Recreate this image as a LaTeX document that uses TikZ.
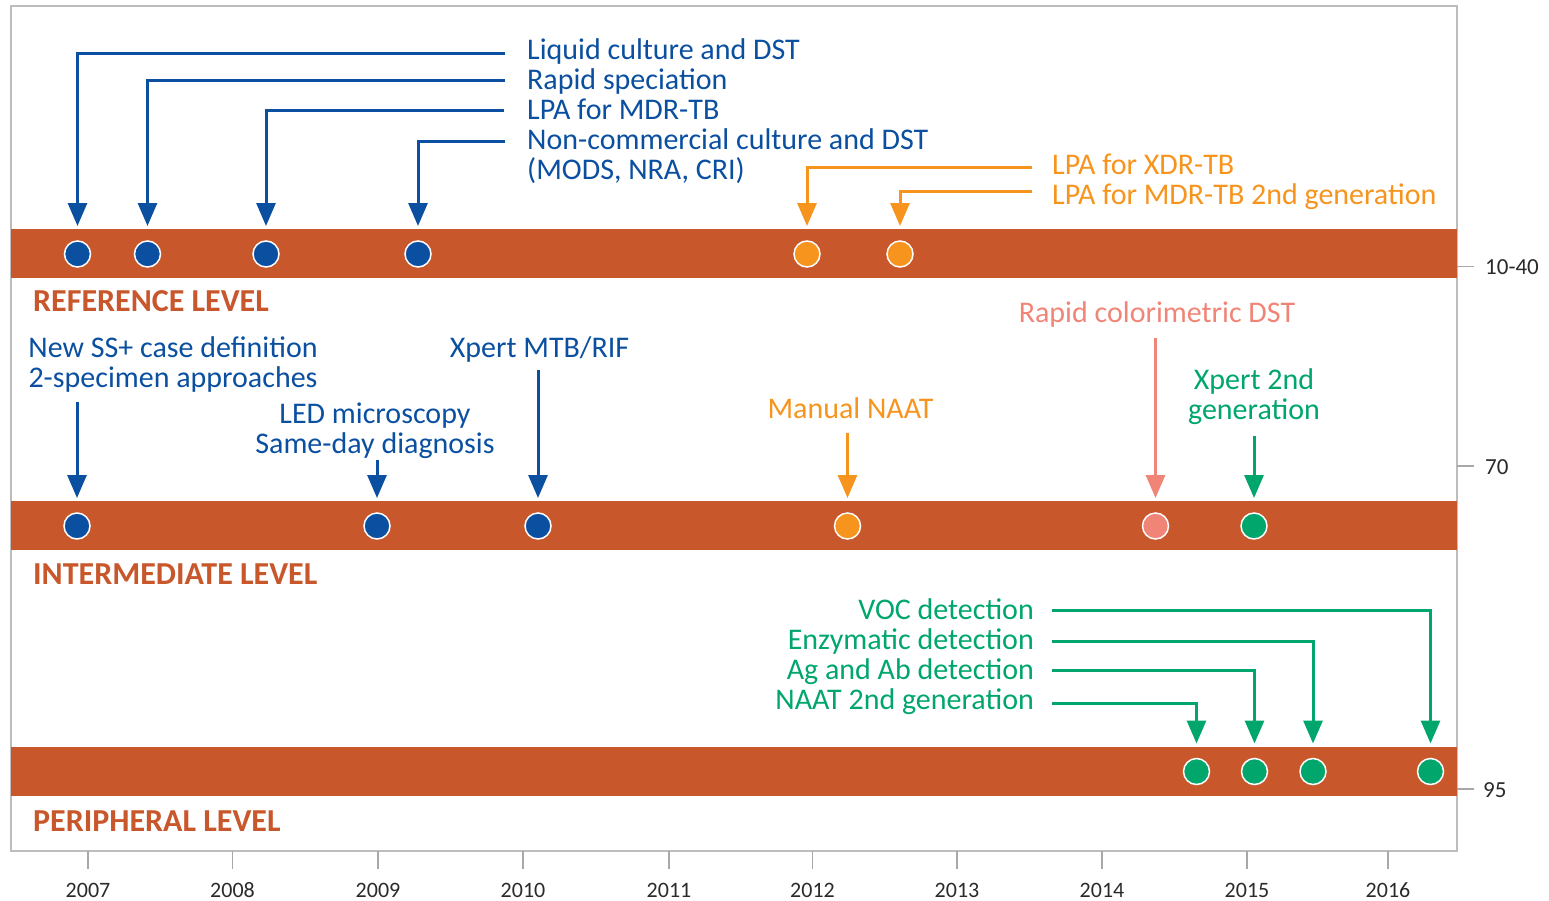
\documentclass[tikz,border=0pt]{standalone}
\usepackage{fontspec}
\setmainfont{Carlito}
\usetikzlibrary{arrows.meta}
\definecolor{band}{HTML}{C8572C}
\definecolor{tbblue}{HTML}{0A4FA0}
\definecolor{tborange}{HTML}{F7941D}
\definecolor{tbsalmon}{HTML}{F08577}
\definecolor{tbgreen}{HTML}{00A66B}
\definecolor{framegray}{HTML}{BDBDBD}
\definecolor{tickgray}{HTML}{A8A8A8}
\definecolor{txtgray}{HTML}{2A2A2A}
\begin{document}
\begin{tikzpicture}[x=1pt,y=-1pt,
  lab/.style={inner sep=0pt, font=\fontsize{30}{32}\selectfont},
  lvl/.style={inner sep=0pt, anchor=base west, text=band, font=\fontsize{32}{34}\selectfont\bfseries},
  yr/.style={inner sep=0pt, anchor=base, text=txtgray, font=\fontsize{22}{24}\selectfont},
  pct/.style={inner sep=0pt, anchor=base west, text=txtgray, font=\fontsize{23}{25}\selectfont},
  dot/.style={circle, draw=white, line width=1.5pt, minimum size=26pt, inner sep=0pt, outer sep=0pt},
  conn/.style={line width=3pt, -{Triangle[width=19pt,length=23pt]}},
  bandbox/.style={fill=band, draw=none},
  tick/.style={draw=tickgray, line width=1.5pt}]
\useasboundingbox (0,0) rectangle (1549,900);
% frame
\draw[framegray, line width=2pt] (11,6) rectangle (1457,851);
% bands
\fill[bandbox] (11,229) rectangle (1457,278);
\fill[bandbox] (11,501) rectangle (1457,550);
\fill[bandbox] (11,747) rectangle (1457,796);
% level labels
\node[lvl] (lref) at (33,311) {REFERENCE LEVEL};
\node[lvl] (lint) at (33,584) {INTERMEDIATE LEVEL};
\node[lvl] (lper) at (33,831) {PERIPHERAL LEVEL};
% year axis
\foreach \x/\y in {88/2007,232.5/2008,378/2009,523/2010,669/2011,812.5/2012,957/2013,1102/2014,1247/2015,1388/2016}{
  \draw[tick] (\x,851) -- (\x,869);
  \node[yr] (y\y) at (\x,897) {\y};
}
% right scale
\draw[tick] (1457,266.5) -- (1474,266.5);
\draw[tick] (1457,466) -- (1474,466);
\draw[tick] (1457,789) -- (1474,789);
\node[pct] (p1) at (1485,274) {10-40};
\node[pct] (p2) at (1485,474) {70};
\node[pct] (p3) at (1483,797) {95};

% reference level dots
\node[dot, fill=tbblue] (r1) at (77.5,254) {};
\node[dot, fill=tbblue] (r2) at (147.5,254) {};
\node[dot, fill=tbblue] (r3) at (266,254) {};
\node[dot, fill=tbblue] (r4) at (418,254) {};
\node[dot, fill=tborange] (r5) at (807,254) {};
\node[dot, fill=tborange] (r6) at (900,254) {};

% reference texts
\node[lab, anchor=base west, text=tbblue] (t1) at (527,59) {Liquid culture and DST};
\node[lab, anchor=base west, text=tbblue] (t2) at (527,89) {Rapid speciation};
\node[lab, anchor=base west, text=tbblue] (t3) at (527,119) {LPA for MDR-TB};
\node[lab, anchor=base west, text=tbblue] (t4) at (527,149) {Non-commercial culture and DST};
\node[lab, anchor=base west, text=tbblue] (t4b) at (527,179) {(MODS, NRA, CRI)};
\node[lab, anchor=base west, text=tborange] (t5) at (1052,174) {LPA for XDR-TB};
\node[lab, anchor=base west, text=tborange] (t6) at (1052,204) {LPA for MDR-TB 2nd generation};

\coordinate (c1) at (505,53);
\coordinate (c2) at (505,80);
\coordinate (c3) at (504,110);
\coordinate (c4) at (505,141);
\coordinate (c5) at (1032,167);
\coordinate (c6) at (1032,191);
\draw[conn, tbblue] (c1) -| ([yshift=15pt]r1.north);
\draw[conn, tbblue] (c2) -| ([yshift=15pt]r2.north);
\draw[conn, tbblue] (c3) -| ([yshift=15pt]r3.north);
\draw[conn, tbblue] (c4) -| ([yshift=15pt]r4.north);
\draw[conn, tborange] (c5) -| ([yshift=15pt]r5.north);
\draw[conn, tborange] (c6) -| ([yshift=15pt]r6.north);

% intermediate level dots
\node[dot, fill=tbblue] (i1) at (77,526) {};
\node[dot, fill=tbblue] (i2) at (377,526) {};
\node[dot, fill=tbblue] (i3) at (538,526) {};
\node[dot, fill=tborange] (i4) at (847.5,526) {};
\node[dot, fill=tbsalmon] (i5) at (1155.5,526) {};
\node[dot, fill=tbgreen] (i6) at (1254,526) {};

% intermediate texts
\node[lab, anchor=base, text=tbblue] (u1) at (173,357) {New SS+ case definition};
\node[lab, anchor=base, text=tbblue] (u1b) at (173,387) {2-specimen approaches};
\node[lab, anchor=base, text=tbblue] (u2) at (375,423) {LED microscopy};
\node[lab, anchor=base, text=tbblue] (u2b) at (375,453) {Same-day diagnosis};
\node[lab, anchor=base, text=tbblue] (u3) at (539.5,357) {Xpert MTB/RIF};
\node[lab, anchor=base, text=tborange] (u4) at (850.5,418) {Manual NAAT};
\node[lab, anchor=base, text=tbsalmon] (u5) at (1157,322) {Rapid colorimetric DST};
\node[lab, anchor=base, text=tbgreen] (u6) at (1254,389) {Xpert 2nd};
\node[lab, anchor=base, text=tbgreen] (u6b) at (1254,419) {generation};

\coordinate (d1) at (77,402);
\coordinate (d2) at (377,460);
\coordinate (d3) at (538,370);
\coordinate (d4) at (847.5,433);
\coordinate (d5) at (1155.5,338);
\coordinate (d6) at (1254,436);
\draw[conn, tbblue] (d1) -- ([yshift=15pt]i1.north);
\draw[conn, tbblue] (d2) -- ([yshift=15pt]i2.north);
\draw[conn, tbblue] (d3) -- ([yshift=15pt]i3.north);
\draw[conn, tborange] (d4) -- ([yshift=15pt]i4.north);
\draw[conn, tbsalmon] (d5) -- ([yshift=15pt]i5.north);
\draw[conn, tbgreen] (d6) -- ([yshift=15pt]i6.north);

% peripheral level dots
\node[dot, fill=tbgreen] (q1) at (1196.5,771.5) {};
\node[dot, fill=tbgreen] (q2) at (1254.5,771.5) {};
\node[dot, fill=tbgreen] (q3) at (1313,771.5) {};
\node[dot, fill=tbgreen] (q4) at (1430.5,771.5) {};

% peripheral texts
\node[lab, anchor=base east, text=tbgreen] (v4) at (1034,619) {VOC detection};
\node[lab, anchor=base east, text=tbgreen] (v3) at (1034,649) {Enzymatic detection};
\node[lab, anchor=base east, text=tbgreen] (v2) at (1034,679) {Ag and Ab detection};
\node[lab, anchor=base east, text=tbgreen] (v1) at (1034,709) {NAAT 2nd generation};

\coordinate (e4) at (1052,610);
\coordinate (e3) at (1052,641);
\coordinate (e2) at (1052,670);
\coordinate (e1) at (1052,703);
\draw[conn, tbgreen] (e4) -| ([yshift=15pt]q4.north);
\draw[conn, tbgreen] (e3) -| ([yshift=15pt]q3.north);
\draw[conn, tbgreen] (e2) -| ([yshift=15pt]q2.north);
\draw[conn, tbgreen] (e1) -| ([yshift=15pt]q1.north);
\end{tikzpicture}
\end{document}
